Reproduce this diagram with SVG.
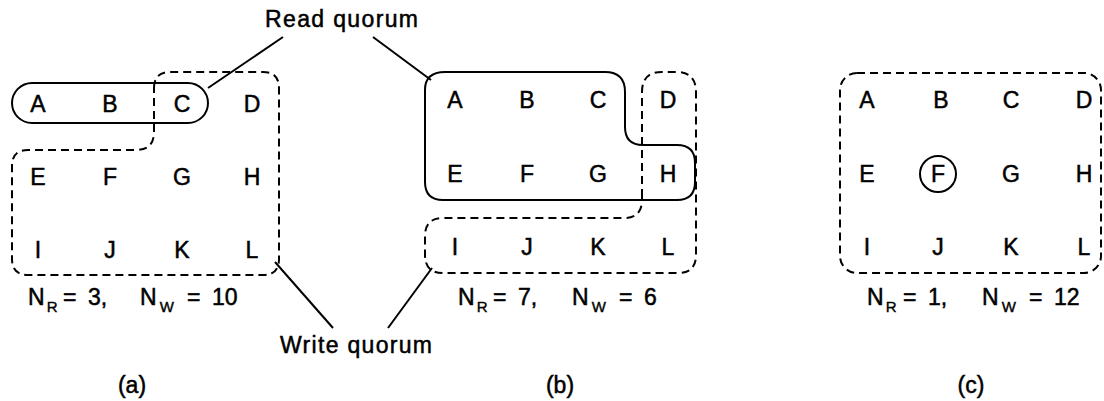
<svg xmlns="http://www.w3.org/2000/svg" width="1104" height="401" viewBox="0 0 1104 401">
<style>
  text { font-family: "Liberation Sans", Arial, sans-serif; fill: #000; stroke: #000; stroke-width: 0.5; }
  .ltr { font-size: 23px; text-anchor: middle; }
  .lbl { font-size: 23px; }
  .sub { font-size: 15px; stroke-width: 0.4; }
  .solid { fill: none; stroke: #000; stroke-width: 2; }
  .dash { fill: none; stroke: #000; stroke-width: 2; stroke-dasharray: 8 5; }
  .lead { stroke: #000; stroke-width: 2; fill: none; }
</style>
<rect width="1104" height="401" fill="#fff"/>

<g id="panel-a">
  <rect class="solid" x="12" y="83" width="196" height="40" rx="20"/>
  <path class="dash" d="M 154,88 Q 154,72 170,72 H 263 Q 279,72 279,88 V 259 Q 279,275 263,275 H 28 Q 12,275 12,259 V 166 Q 12,150 28,150 H 136 Q 154,150 154,132 Z"/>
  <text class="ltr" x="38" y="112">A</text>
  <text class="ltr" x="110" y="112">B</text>
  <text class="ltr" x="182" y="112">C</text>
  <text class="ltr" x="252" y="112">D</text>
  <text class="ltr" x="38" y="185">E</text>
  <text class="ltr" x="110" y="185">F</text>
  <text class="ltr" x="182" y="185">G</text>
  <text class="ltr" x="252" y="185">H</text>
  <text class="ltr" x="38" y="258">I</text>
  <text class="ltr" x="110" y="258">J</text>
  <text class="ltr" x="182" y="258">K</text>
  <text class="ltr" x="252" y="258">L</text>
  <text class="lbl" y="305"><tspan x="28">N</tspan><tspan class="sub" dx="2" dy="7">R</tspan><tspan x="63" dy="-7">=</tspan><tspan x="88">3,</tspan><tspan x="140">N</tspan><tspan class="sub" dx="3" dy="7">W</tspan><tspan x="187" dy="-7">=</tspan><tspan x="212">10</tspan></text>
  <text class="ltr" x="132" y="393">(a)</text>
</g>

<g id="panel-b">
  <path class="solid" d="M 445,72 H 605 Q 625,72 625,92 V 127 Q 625,145 643,145 H 677 Q 695,145 695,163 V 182 Q 695,200 677,200 H 443 Q 425,200 425,182 V 90 Q 425,72 445,72 Z"/>
  <path class="dash" d="M 642,197 V 92 Q 642,72 662,72 H 676 Q 696,72 696,92 V 255 Q 696,273 678,273 H 443 Q 425,273 425,255 V 236 Q 425,218 443,218 H 624 Q 642,218 642,200 Z"/>
  <text class="ltr" x="455" y="108">A</text>
  <text class="ltr" x="527" y="108">B</text>
  <text class="ltr" x="598" y="108">C</text>
  <text class="ltr" x="668" y="108">D</text>
  <text class="ltr" x="455" y="182">E</text>
  <text class="ltr" x="527" y="182">F</text>
  <text class="ltr" x="598" y="182">G</text>
  <text class="ltr" x="668" y="182">H</text>
  <text class="ltr" x="455" y="255">I</text>
  <text class="ltr" x="527" y="255">J</text>
  <text class="ltr" x="598" y="255">K</text>
  <text class="ltr" x="668" y="255">L</text>
  <text class="lbl" y="305"><tspan x="458">N</tspan><tspan class="sub" dx="2" dy="7">R</tspan><tspan x="493" dy="-7">=</tspan><tspan x="518">7,</tspan><tspan x="572">N</tspan><tspan class="sub" dx="3" dy="7">W</tspan><tspan x="619" dy="-7">=</tspan><tspan x="644">6</tspan></text>
  <text class="ltr" x="560" y="393">(b)</text>
</g>

<g id="panel-c">
  <rect class="dash" x="840" y="73" width="261" height="200" rx="17"/>
  <circle class="solid" cx="938" cy="174" r="18"/>
  <text class="ltr" x="867" y="108">A</text>
  <text class="ltr" x="941" y="108">B</text>
  <text class="ltr" x="1011" y="108">C</text>
  <text class="ltr" x="1084" y="108">D</text>
  <text class="ltr" x="867" y="182">E</text>
  <text class="ltr" x="938" y="182">F</text>
  <text class="ltr" x="1011" y="182">G</text>
  <text class="ltr" x="1084" y="182">H</text>
  <text class="ltr" x="867" y="255">I</text>
  <text class="ltr" x="938" y="255">J</text>
  <text class="ltr" x="1011" y="255">K</text>
  <text class="ltr" x="1084" y="255">L</text>
  <text class="lbl" y="305"><tspan x="867">N</tspan><tspan class="sub" dx="2" dy="7">R</tspan><tspan x="903" dy="-7">=</tspan><tspan x="928">1,</tspan><tspan x="982">N</tspan><tspan class="sub" dx="3" dy="7">W</tspan><tspan x="1029" dy="-7">=</tspan><tspan x="1054">12</tspan></text>
  <text class="ltr" x="971" y="393">(c)</text>
</g>

<g id="read-quorum">
  <text class="lbl" x="265" y="27" textLength="153">Read quorum</text>
</g>
<g id="write-quorum">
  <text class="lbl" x="280" y="353" textLength="152">Write quorum</text>
</g>

<g id="connectors">
  <line class="lead" x1="283" y1="37" x2="208" y2="88"/>
  <line class="lead" x1="373" y1="37" x2="431" y2="80"/>
  <line class="lead" x1="275" y1="262" x2="333" y2="328"/>
  <line class="lead" x1="432" y1="268" x2="388" y2="328"/>
</g>
</svg>
